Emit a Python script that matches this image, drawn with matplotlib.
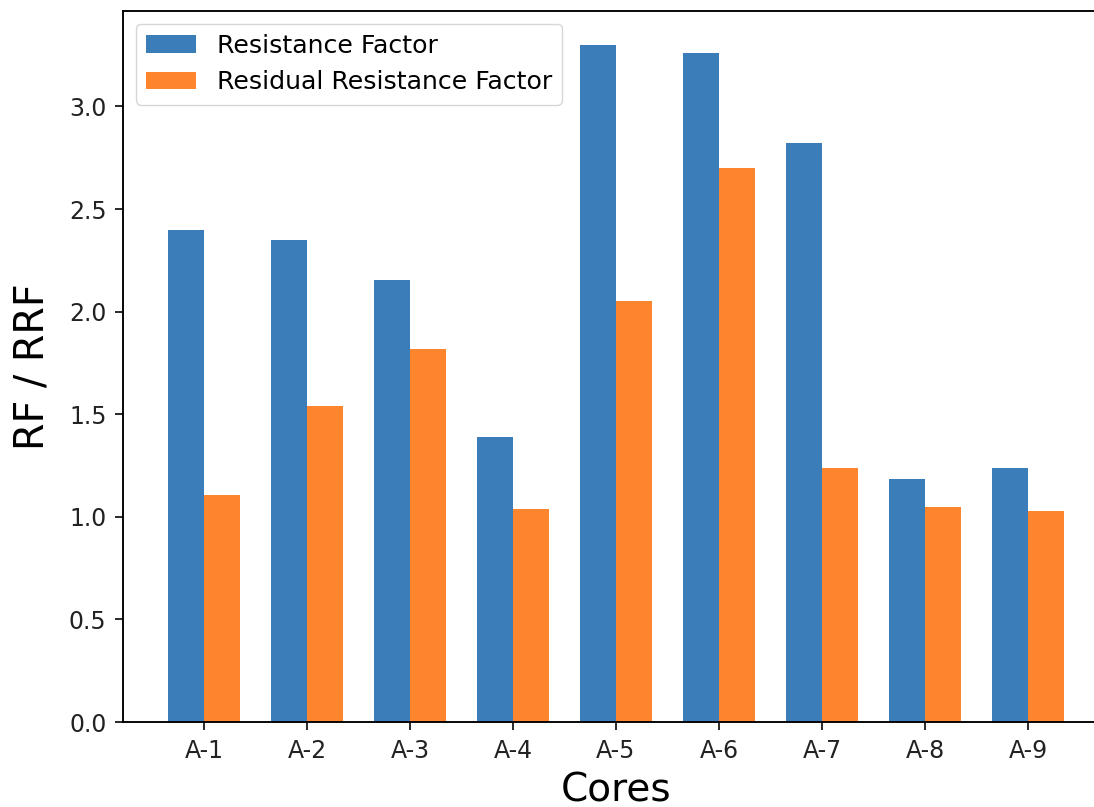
import matplotlib
matplotlib.use("Agg")
import matplotlib.pyplot as plt
import numpy as np

cores = ["A-1", "A-2", "A-3", "A-4", "A-5", "A-6", "A-7", "A-8", "A-9"]
rf = [2.40, 2.35, 2.155, 1.39, 3.30, 3.26, 2.82, 1.185, 1.24]
rrf = [1.107, 1.54, 1.82, 1.04, 2.05, 2.70, 1.24, 1.05, 1.03]

s = 1.7
plt.rcParams['font.family'] = ['DejaVu Sans']
fig = plt.figure(figsize=(10.94, 8.07), dpi=100)
ax = fig.add_axes([123/1094, 1 - 722/807, 986/1094, 711/807])

x = np.arange(len(cores))
w = 0.35
ax.bar(x - w/2, rf, w, color="#3b7db8", label="Resistance Factor")
ax.bar(x + w/2, rrf, w, color="#fd852e", label="Residual Resistance Factor")

ax.set_xticks(x)
ax.set_xticklabels(cores)
ax.tick_params(labelsize=10*s, length=3.5*s, width=0.8*s, pad=3.5*s, colors="#222222", labelcolor="#222222")
for sp in ax.spines.values():
    sp.set_linewidth(0.8*s)
ax.spines['right'].set_visible(False)
ax.set_xlabel("Cores", fontsize=16.5*s, labelpad=4*s)
ax.set_ylabel("RF / RRF", fontsize=16.8*s, labelpad=4*s + 5)
ax.legend(loc="upper left", fontsize=18.2, framealpha=0.8, edgecolor="#cccccc")

fig.savefig("out.png", dpi=100)
